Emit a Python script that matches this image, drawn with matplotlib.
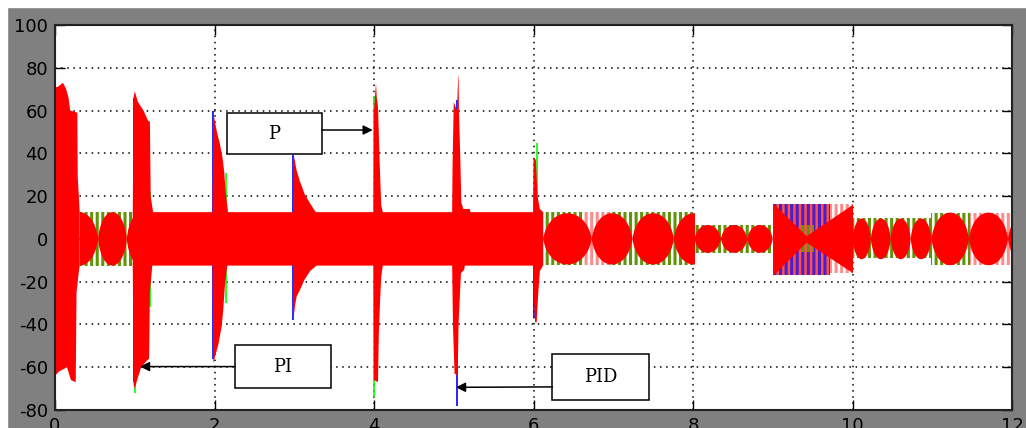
import matplotlib
matplotlib.use('Agg')
import matplotlib.pyplot as plt
from matplotlib.path import Path
from matplotlib.patches import PathPatch, Rectangle

plt.rcParams['hatch.linewidth'] = 2.2
plt.rcParams['axes.unicode_minus'] = False

# start-up transient (0 - 0.31 s), upper and lower envelope
tr_hi_t = [0, 0.006, 0.03, 0.10, 0.14, 0.17, 0.19, 0.28, 0.285, 0.31]
tr_hi_v = [83, 71, 71, 73, 70, 66, 60, 59, 29, 12.5]
tr_lo_t = [0, 0.05, 0.1, 0.15, 0.2, 0.26, 0.27, 0.3, 0.31]
tr_lo_v = [-64, -62, -61, -60, -66, -67, -25, -15, -12.5]

# steady band with the load-step spikes (0.98 - 6.12 s)
red_hi_t = [0.975, 0.985, 1.0, 1.04, 1.11, 1.17, 1.19, 1.2, 1.23,
            1.975, 1.985, 2.0, 2.03, 2.07, 2.1, 2.12, 2.14, 2.17,
            2.985, 2.99, 3.03, 3.07, 3.13, 3.2, 3.27,
            3.995, 4.0, 4.025, 4.035, 4.05, 4.07, 4.09, 4.11,
            4.98, 4.985, 5.0, 5.04, 5.055, 5.06, 5.065, 5.08, 5.095, 5.12, 5.2, 5.21,
            5.995, 6.0, 6.03, 6.05, 6.08, 6.12]
red_hi_v = [12.5, 66, 69, 64, 60, 55, 55, 20, 12.5,
            12.5, 59, 56, 50, 44, 38, 32, 22, 12.5,
            12.5, 40, 32, 27, 21, 16.5, 12.5,
            12.5, 60, 73, 66, 62, 37, 16, 12.5,
            12.5, 34, 64, 60, 75, 77, 60, 41, 17, 14, 14, 12.5,
            12.5, 38, 37, 20, 14, 12.5]
red_lo_t = [0.975, 0.985, 1.0, 1.03, 1.08, 1.15, 1.18, 1.19, 1.22,
            1.975, 1.985, 2.0, 2.05, 2.09, 2.11, 2.13, 2.16,
            2.985, 2.99, 3.01, 3.03, 3.07, 3.13, 3.2, 3.28,
            3.995, 4.0, 4.05, 4.06, 4.075, 4.09, 4.11,
            4.98, 4.99, 5.01, 5.05, 5.06, 5.08, 5.09, 5.13, 5.14,
            5.995, 6.0, 6.02, 6.04, 6.06, 6.08, 6.12]
red_lo_v = [-12.5, -68, -70, -66, -60, -57, -56, -25, -12.5,
            -12.5, -58, -56, -49, -41, -33, -22, -12.5,
            -12.5, -38, -31, -27, -24, -19, -15, -12.5,
            -12.5, -66, -67, -45, -30, -18, -12.5,
            -12.5, -40, -63, -64, -40, -24, -16, -14.5, -12.5,
            -12.5, -25, -39, -39, -25, -15, -12.5]

# green / blue traces poking out of the red one
green_t = [1.005, 1.195, 2.14, 4.0, 6.01, 6.04]
green_lo = [-72, -32, -30, -74, -29, -20]
green_hi = [64, 22, 31, 67, 20, 44.6]
blue_t = [0.985, 1.985, 2.99, 5.035, 6.0]
blue_lo = [-67, -56, -38, -78, -37]
blue_hi = [66, 60, 39, 65, 8]

# striped (beating) sections of the band
band_t0 = [0.31, 6.12, 6.62, 6.95, 8.02, 9.0, 9.72, 9.33, 10.0, 10.99, 11.47]
band_t1 = [0.98, 6.62, 6.95, 8.02, 9.0, 9.72, 10.0, 9.52, 10.99, 11.47, 12.0]
band_hi = [12.5, 12.5, 12.5, 12.5, 6.5, 16.5, 16.2, 6.5, 10, 12.3, 12.3]
band_lo = [-12.5, -12, -12, -12, -6.6, -16.8, -16, -6, -9, -12.3, -12.3]
band_kind = ['olive', 'olive', 'pink', 'olive', 'olive', 'purple', 'pink',
             'olive2', 'olive', 'olive', 'pink']

# beat spans and the red lenses between the beat nodes
beat_t0 = [0.31, 6.12, 8.02, 10.0, 10.99]
beat_t1 = [0.98, 8.02, 9.0, 10.99, 12.0]
lens_t0 = [0.08, 0.54, 0.90, 6.12, 6.73, 7.24, 7.76, 8.02, 8.35, 8.68,
           10.0, 10.23, 10.48, 10.73, 10.99, 11.46, 11.95]
lens_t1 = [0.54, 0.90, 1.26, 6.73, 7.24, 7.76, 8.26, 8.35, 8.68, 9.0,
           10.23, 10.48, 10.73, 10.99, 11.46, 11.95, 12.42]
lens_amp = [12.5, 12.5, 12.5, 12, 12, 12, 12, 6.5, 6.5, 6.5,
            9.5, 9.5, 9.5, 9.5, 12.3, 12.3, 12.3]

# bow-tie between 9 and 10 s
bow_t = [9.0, 9.42, 10.0]
bow_hi = [16.8, 1.5, 16.2]
bow_lo = [-17, -1.5, -15.8]

stripe_style = {
    'olive': ('white', '#5e9406'),
    'olive2': ('#ff5050', '#5e9406'),
    'pink': ('white', '#ff8c8c'),
    'purple': ('#ff5050', '#4a1fc8'),
}

fig = plt.figure(figsize=(10.26, 4.28), dpi=100, facecolor='#808080')
ax = fig.add_axes([55 / 1026, 18 / 428, 957 / 1026, 385 / 428])
ax.set_facecolor('white')

for t0, t1, hi, lo, kind in zip(band_t0, band_t1, band_hi, band_lo, band_kind):
    face, stripe = stripe_style[kind]
    ax.fill_between([t0, t1], [lo, lo], [hi, hi], facecolor=face,
                    edgecolor=stripe, hatch='|||', linewidth=0, zorder=1)

ax.vlines(green_t, green_lo, green_hi, color='#00ff00', lw=1.2, zorder=1.5)
ax.vlines(blue_t, blue_lo, blue_hi, color='#0000ff', lw=1.2, zorder=1.5)

ax.fill(tr_hi_t + tr_lo_t[::-1], tr_hi_v + tr_lo_v[::-1], color='red', lw=0, zorder=2)
ax.fill(red_hi_t + red_lo_t[::-1], red_hi_v + red_lo_v[::-1], color='red', lw=0, zorder=2)
ax.fill_between(bow_t, bow_lo, bow_hi, color='red', lw=0, zorder=2)

# lenses: cubic bezier arcs, clipped to the beat span they belong to
for t0, t1, a in zip(lens_t0, lens_t1, lens_amp):
    over = [min(t1, e) - max(t0, s) for s, e in zip(beat_t0, beat_t1)]
    k = over.index(max(over))
    w = t1 - t0
    c = 4 / 3 * a
    verts = [(t0, 0), (t0 + 0.12 * w, c), (t1 - 0.12 * w, c), (t1, 0),
             (t1 - 0.12 * w, -c), (t0 + 0.12 * w, -c), (t0, 0), (t0, 0)]
    codes = [Path.MOVETO] + [Path.CURVE4] * 6 + [Path.CLOSEPOLY]
    lens = PathPatch(Path(verts, codes), facecolor='red', lw=0, zorder=2)
    ax.add_patch(lens)
    clip = Rectangle((beat_t0[k], -40), beat_t1[k] - beat_t0[k], 80,
                     transform=ax.transData)
    lens.set_clip_path(clip)

ax.set_xlim(0, 12)
ax.set_ylim(-80, 100)
ax.set_xticks(range(0, 13, 2))
ax.set_yticks(range(-80, 101, 20))
ax.set_xticklabels([str(v) for v in range(0, 13, 2)])
ax.set_yticklabels([str(v) for v in range(-80, 101, 20)])
ax.tick_params(direction='in', length=7, width=1, top=True, right=True,
               labelsize=13, pad=5, colors='black')
ax.grid(True, color='black', linestyle=(0, (1, 3)), linewidth=1.1)
ax.set_axisbelow(True)
for sp in ax.spines.values():
    sp.set_linewidth(1.5)
    sp.set_color('#222222')

# labelled boxes with arrows
boxes = [((2.153, 39.7), 1.191, 19.0, 'P'),
         ((2.257, -69.8), 1.2, 20.2, 'PI'),
         ((6.238, -75.3), 1.205, 21.35, 'PID')]
for (x0, y0), w, h, label in boxes:
    ax.add_patch(Rectangle((x0, y0), w, h, facecolor='white', edgecolor='black',
                           lw=1.1, zorder=5))
    ax.text(x0 + w / 2, y0 + h / 2, label, ha='center', va='center',
            fontsize=13, family='DejaVu Serif', zorder=6)

arrows = [((3.344, 50.9), (3.984, 50.9)),
          ((2.257, -59.7), (1.066, -59.7)),
          ((6.238, -69.2), (5.028, -69.4))]
for start, tip in arrows:
    ax.annotate('', xy=tip, xytext=start, zorder=6,
                arrowprops=dict(arrowstyle='-|>', color='black', lw=1.1,
                                mutation_scale=14, shrinkA=0, shrinkB=0))

fig.add_artist(Rectangle((0, 1 - 7 / 428), 1, 7 / 428, transform=fig.transFigure,
                         color='white', zorder=10))
fig.add_artist(Rectangle((0, 0), 7 / 1026, 1, transform=fig.transFigure,
                         color='white', zorder=10))

fig.savefig('out.png', dpi=100, facecolor=fig.get_facecolor())
